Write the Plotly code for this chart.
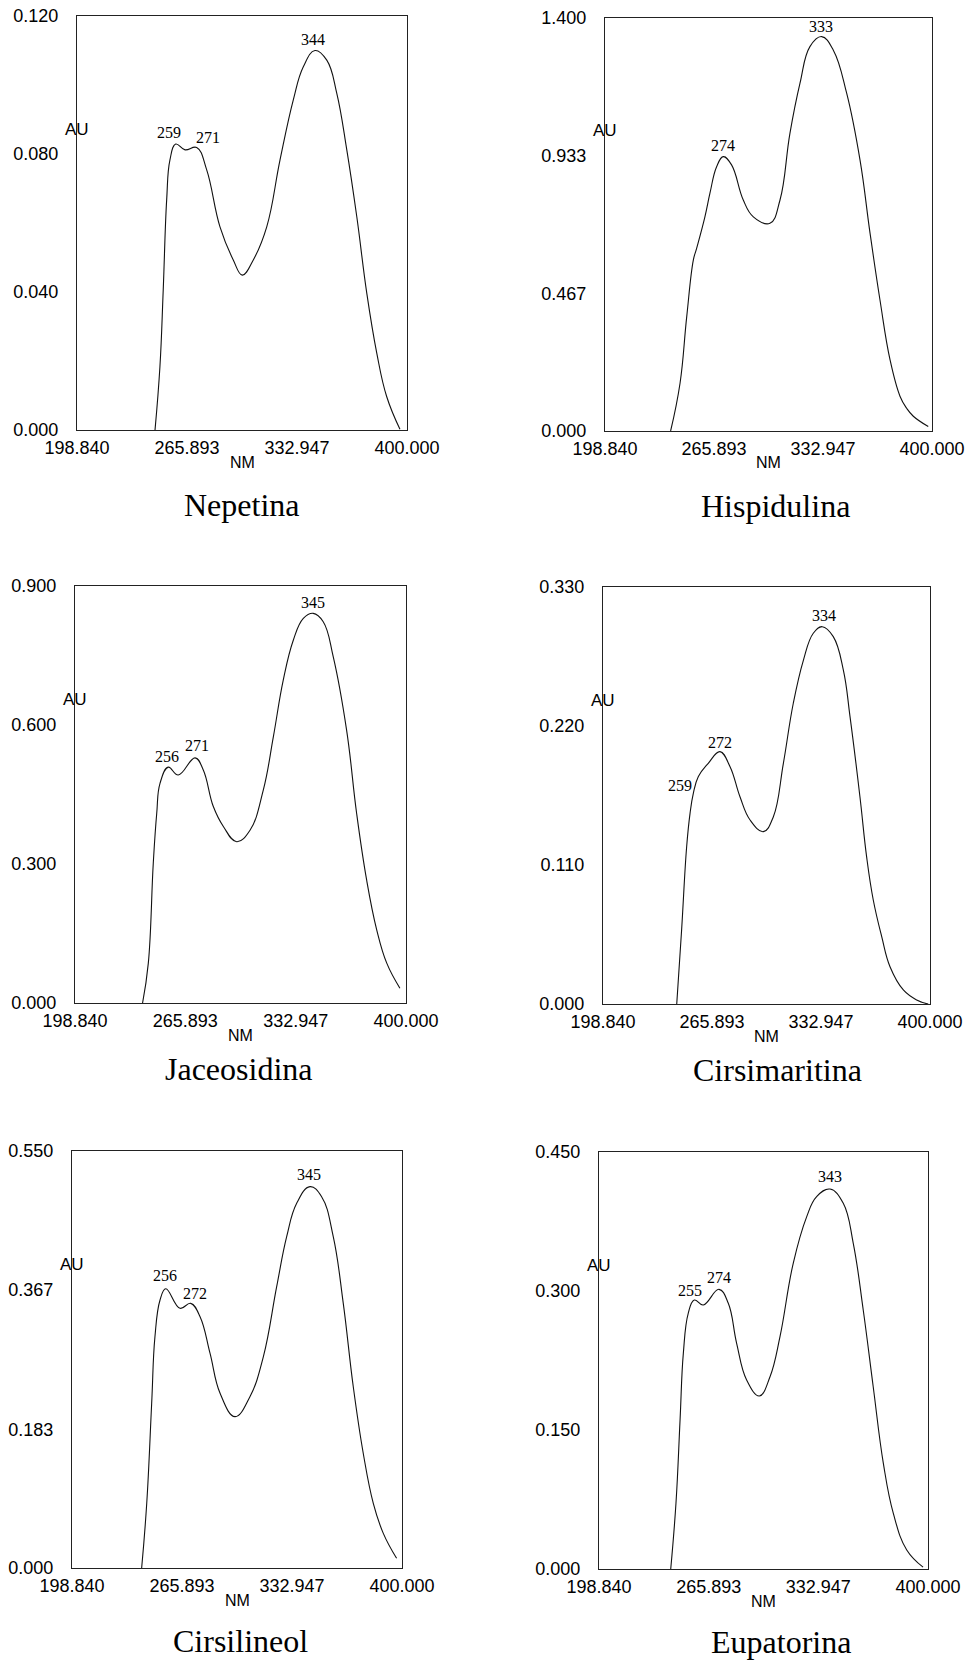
import numpy as np
import plotly.graph_objects as go

# ---------------- data ----------------
NAMES = ["Nepetina", "Hispidulina", "Jaceosidina", "Cirsimaritina", "Cirsilineol", "Eupatorina"]

X_TICK_VALS = [198.840, 265.893, 332.947, 400.000]
X_TICK_TEXT = ["198.840", "265.893", "332.947", "400.000"]

NEPETINA_NM = [246.4, 249.4, 251.4, 253.5, 255.5, 259.0, 264.7, 271.8, 277.9, 286.0, 294.1, 299.6, 306.3,
               314.5, 322.6, 330.7, 336.8, 343.9, 351.1, 357.2, 363.3, 369.4, 375.5, 381.6, 387.6, 395.7]
NEPETINA_AU = [0.0, 0.0184, 0.0406, 0.0667, 0.0783, 0.0829, 0.0812, 0.0819, 0.0754, 0.0589, 0.0493, 0.0449,
               0.0493, 0.0589, 0.0783, 0.0957, 0.1053, 0.1100, 0.1072, 0.0976, 0.0812, 0.0618, 0.0396,
               0.0222, 0.0097, 0.0002]

HISPIDULINA_NM = [239.2, 245.0, 249.1, 253.2, 255.2, 260.3, 263.4, 267.5, 271.6, 276.7, 283.9, 290.1, 300.3,
                  306.5, 312.6, 318.8, 324.9, 332.1, 339.3, 347.5, 355.7, 361.9, 368.0, 374.2, 380.3, 384.4,
                  388.5, 397.7]
HISPIDULINA_AU = [0.0, 0.162, 0.387, 0.580, 0.619, 0.726, 0.806, 0.896, 0.930, 0.902, 0.783, 0.726, 0.704,
                  0.783, 1.009, 1.179, 1.303, 1.337, 1.291, 1.145, 0.919, 0.670, 0.444, 0.241, 0.118, 0.077,
                  0.050, 0.015]

JACEOSIDINA_NM = [239.9, 243.4, 246.4, 248.5, 250.5, 255.5, 261.6, 271.8, 276.8, 282.9, 289.0, 297.1, 305.2,
                  313.3, 319.4, 325.4, 331.5, 337.6, 343.6, 349.7, 355.8, 363.9, 370.0, 376.1, 382.2, 388.3,
                  396.3]
JACEOSIDINA_AU = [0.0, 0.086, 0.301, 0.409, 0.474, 0.509, 0.492, 0.529, 0.503, 0.424, 0.381, 0.348, 0.373,
                  0.460, 0.575, 0.697, 0.783, 0.830, 0.841, 0.823, 0.747, 0.589, 0.409, 0.265, 0.158, 0.086,
                  0.032]

CIRSIMARITINA_NM = [244.2, 247.2, 250.3, 252.4, 254.4, 257.5, 263.6, 270.8, 277.0, 283.1, 289.3, 297.5, 303.6,
                    309.8, 315.9, 322.1, 328.2, 333.7, 340.5, 346.7, 350.8, 356.9, 361.0, 365.1, 370.3, 375.4,
                    383.6, 391.8, 398.9]
CIRSIMARITINA_AU = [0.0, 0.0586, 0.1245, 0.151, 0.1667, 0.180, 0.1905, 0.1997, 0.1878, 0.164, 0.1456, 0.1364,
                    0.148, 0.1905, 0.238, 0.272, 0.2934, 0.2986, 0.2907, 0.2643, 0.2274, 0.164, 0.1166,
                    0.0823, 0.0533, 0.0295, 0.0111, 0.0032, 0.0]

CIRSILINEOL_NM = [241.3, 244.4, 247.4, 249.4, 252.5, 256.0, 264.7, 271.2, 276.9, 283.0, 289.1, 298.2, 307.3,
                  315.5, 323.6, 329.7, 335.8, 343.9, 351.0, 358.1, 364.2, 370.3, 376.4, 382.5, 388.6, 396.7]
CIRSILINEOL_AU = [0.0, 0.0853, 0.217, 0.305, 0.3535, 0.3684, 0.3425, 0.349, 0.3315, 0.283, 0.2304, 0.1996,
                  0.226, 0.2787, 0.371, 0.437, 0.481, 0.503, 0.4897, 0.437, 0.349, 0.239, 0.151, 0.0853,
                  0.0457, 0.0128]

EUPATORINA_NM = [242.7, 245.9, 248.4, 250.4, 253.4, 257.1, 262.6, 272.2, 277.9, 283.0, 289.1, 296.9, 303.4,
                 309.5, 317.6, 325.8, 331.9, 340.1, 348.2, 354.3, 360.4, 366.5, 372.7, 378.8, 387.0, 397.0]
EUPATORINA_AU = [0.0, 0.0709, 0.1608, 0.2327, 0.2759, 0.2903, 0.2849, 0.3018, 0.2867, 0.2436, 0.204, 0.1867,
                 0.2075, 0.2507, 0.3299, 0.380, 0.4018, 0.410, 0.3946, 0.3515, 0.2795, 0.1967, 0.114, 0.060,
                 0.0205, 0.002]

Y_TICKS_NEPETINA = ["0.000", "0.040", "0.080", "0.120"]
Y_TICKS_HISPIDULINA = ["0.000", "0.467", "0.933", "1.400"]
Y_TICKS_JACEOSIDINA = ["0.000", "0.300", "0.600", "0.900"]
Y_TICKS_CIRSIMARITINA = ["0.000", "0.110", "0.220", "0.330"]
Y_TICKS_CIRSILINEOL = ["0.000", "0.183", "0.367", "0.550"]
Y_TICKS_EUPATORINA = ["0.000", "0.150", "0.300", "0.450"]

PEAKS_NEPETINA = [259, 271, 344]
PEAKS_HISPIDULINA = [274, 333]
PEAKS_JACEOSIDINA = [256, 271, 345]
PEAKS_CIRSIMARITINA = [259, 272, 334]
PEAKS_CIRSILINEOL = [256, 272, 345]
PEAKS_EUPATORINA = [255, 274, 343]

SERIES = [
    (NEPETINA_NM, NEPETINA_AU, Y_TICKS_NEPETINA, PEAKS_NEPETINA),
    (HISPIDULINA_NM, HISPIDULINA_AU, Y_TICKS_HISPIDULINA, PEAKS_HISPIDULINA),
    (JACEOSIDINA_NM, JACEOSIDINA_AU, Y_TICKS_JACEOSIDINA, PEAKS_JACEOSIDINA),
    (CIRSIMARITINA_NM, CIRSIMARITINA_AU, Y_TICKS_CIRSIMARITINA, PEAKS_CIRSIMARITINA),
    (CIRSILINEOL_NM, CIRSILINEOL_AU, Y_TICKS_CIRSILINEOL, PEAKS_CIRSILINEOL),
    (EUPATORINA_NM, EUPATORINA_AU, Y_TICKS_EUPATORINA, PEAKS_EUPATORINA),
]

# ---------------- layout / style ----------------
W, H = 969, 1662
# plot frames in page pixels (left, top, right, bottom)
FRAMES = [(77, 16, 407, 430), (605, 18, 932, 431),
          (75, 586, 406, 1003), (603, 587, 930, 1004),
          (72, 1151, 402, 1568), (599, 1152, 928, 1569)]
# compound-name offsets (xshift, yshift) relative to the bottom-centre of each frame
TITLE_SHIFTS = [(0, -75), (7, -75), (-2, -66), (11, -66), (3, -73), (17, -73)]
# label offsets (xshift, yshift) in px for each peak label
LABEL_SHIFTS = [
    [(-7, 11), (13, 10), (-2, 11)],
    [(-4, 15), (-2, 12)],
    [(-2, 11), (3, 14), (-3, 13)],
    [(-21, -12), (-2, 12), (1, 12)],
    [(-1, 13), (3, 12), (-3, 14)],
    [(-1, 17), (-3, 16), (-5, 18)],
]
SANS = "Liberation Sans, Arial, sans-serif"
SERIF = "Liberation Serif, Times New Roman, serif"

fig = go.Figure()
annotations = []
layout = dict(
    width=W, height=H, margin=dict(l=0, r=0, t=0, b=0, autoexpand=False),
    paper_bgcolor="white", plot_bgcolor="white", showlegend=False,
)

for i, ((nm, au, yt, peaks), name, frame) in enumerate(zip(SERIES, NAMES, FRAMES), start=1):
    xa = "x" if i == 1 else f"x{i}"
    ya = "y" if i == 1 else f"y{i}"
    l, t, r, b = frame
    ymax = float(yt[-1])
    fig.add_trace(go.Scatter(
        x=nm, y=au, mode="lines", xaxis=xa, yaxis=ya,
        line=dict(color="#111111", width=1.1, shape="spline", smoothing=1.2),
        hoverinfo="skip",
    ))
    axis_common = dict(showline=True, mirror=True, linecolor="#222222", linewidth=1.2,
                       showgrid=False, zeroline=False, ticks="", automargin=False,
                       ticklabeloverflow="allow", fixedrange=True,
                       tickfont=dict(family=SANS, size=18, color="black"))
    layout["xaxis" if i == 1 else f"xaxis{i}"] = dict(
        axis_common, domain=[l / W, r / W], anchor=ya, range=[198.84, 400.0],
        tickmode="array", tickvals=X_TICK_VALS, ticktext=X_TICK_TEXT, ticklabelstandoff=1,
    )
    layout["yaxis" if i == 1 else f"yaxis{i}"] = dict(
        axis_common, domain=[1 - b / H, 1 - t / H], anchor=xa, range=[0, ymax],
        tickmode="array", tickvals=[float(v) for v in yt], ticktext=yt, ticklabelstandoff=14,
    )
    xdom = f"{xa} domain"
    ydom = f"{ya} domain"
    # AU label on the left axis
    annotations.append(dict(xref=xdom, yref=ydom, x=0, y=0.727, text="AU", showarrow=False,
                            xanchor="center", yanchor="middle",
                            font=dict(family=SANS, size=17, color="black")))
    # NM label under the x axis
    annotations.append(dict(xref=xdom, yref=ydom, x=0.5, y=0, text="NM", showarrow=False,
                            xanchor="center", yanchor="middle", yshift=-32,
                            font=dict(family=SANS, size=16, color="black")))
    # compound name
    tdx, tdy = TITLE_SHIFTS[i - 1]
    annotations.append(dict(xref=xdom, yref=ydom, x=0.5, y=0, text=name, showarrow=False,
                            xanchor="center", yanchor="middle", yshift=tdy, xshift=tdx,
                            font=dict(family=SERIF, size=32, color="black")))
    # peak labels
    for p, (dx, dy) in zip(peaks, LABEL_SHIFTS[i - 1]):
        yv = float(np.interp(p, nm, au))
        annotations.append(dict(xref=xa, yref=ya, x=p, y=yv, text=str(p), showarrow=False,
                                xanchor="center", yanchor="middle", xshift=dx, yshift=dy,
                                font=dict(family=SERIF, size=16, color="black")))

layout["annotations"] = annotations
fig.update_layout(**layout)
# the page's default 8px body margin would push the 969x1662 figure past the window edges
PAGE_CSS = ("document.body.style.margin='0';"
            "document.body.style.overflow='hidden';"
            "document.documentElement.style.overflow='hidden';")
fig.write_html("out.html", post_script=PAGE_CSS,
               config={"displayModeBar": False, "staticPlot": True})
